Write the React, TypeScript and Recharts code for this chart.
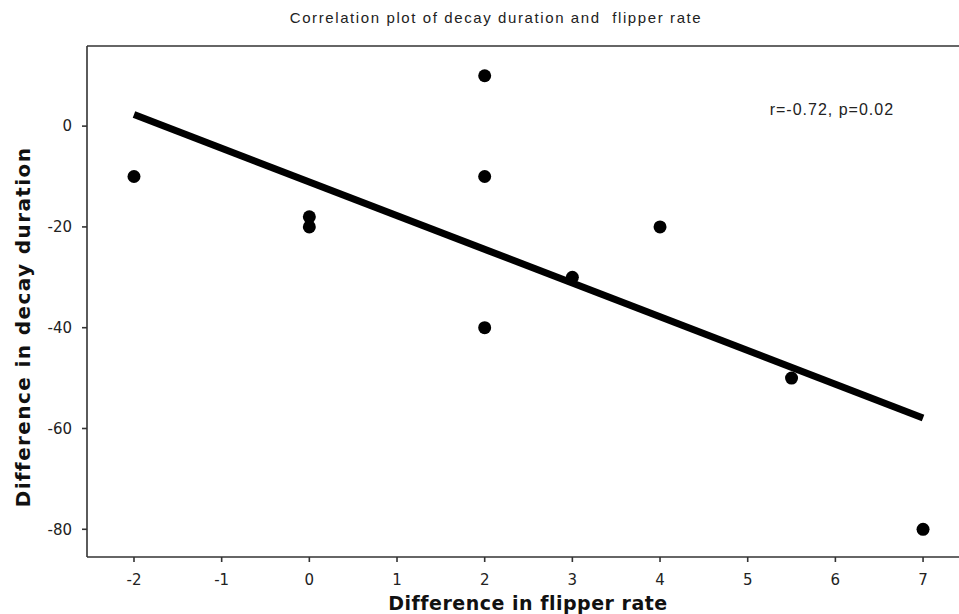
import React from "react";
import {
  ScatterChart,
  Scatter,
  XAxis,
  YAxis,
  ReferenceLine,
  ReferenceDot,
} from "recharts";

// Observed points (difference in flipper rate, difference in decay duration)
const flipperDiff = [-2, 0, 0, 2, 2, 2, 3, 4, 5.5, 7];
const decayDiff = [-10, -18, -20, 10, -10, -40, -30, -20, -50, -80];

// Fitted regression line end points
const fitX = [-2, 7];
const fitY = [2.3, -57.9];

const xTicks = [-2, -1, 0, 1, 2, 3, 4, 5, 6, 7];
const yTicks = [-80, -60, -40, -20, 0];
const xDomain: [number, number] = [-2.536, 7.41];
const yDomain: [number, number] = [-85.5, 15.9];

const titleText = "Correlation plot of decay duration and  flipper rate";
const statText = "r=-0.72, p=0.02";
const xLabelText = "Difference in flipper rate";
const yLabelText = "Difference in decay duration";

const points = flipperDiff.map((x, i) => ({ x, y: decayDiff[i] }));
const fitLine = fitX.map((x, i) => ({ x, y: fitY[i] }));

const AXIS = "#333";
const TICK_FONT = { fill: "#222", fontSize: 15, fontFamily: "DejaVu Sans" };

const XLabel = (props: any) => {
  const { viewBox } = props;
  const cx = viewBox.x + viewBox.width / 2;
  return (
    <text
      x={cx + 5}
      y={610}
      textAnchor="middle"
      fontFamily="DejaVu Sans"
      fontWeight="bold"
      fontSize={19}
      letterSpacing={0.5}
      fill="#111"
    >
      {xLabelText}
    </text>
  );
};

const YLabel = () => {
  const cx = 30;
  const cy = 327;
  return (
    <text
      x={cx}
      y={cy}
      transform={`rotate(-90 ${cx} ${cy})`}
      textAnchor="middle"
      fontFamily="DejaVu Sans"
      fontWeight="bold"
      fontSize={20}
      letterSpacing={1.4}
      fill="#111"
    >
      {yLabelText}
    </text>
  );
};

const StatLabel = (props: any) => {
  const { viewBox } = props;
  return (
    <text
      x={viewBox.x}
      y={viewBox.y + 6}
      textAnchor="middle"
      fontFamily="Liberation Sans"
      fontSize={16}
      letterSpacing={1}
      fill="#222"
    >
      {statText}
    </text>
  );
};

const Dot = (props: any) => {
  const { cx, cy } = props;
  return <circle cx={cx} cy={cy} r={6.5} fill="#000" />;
};

const NoShape = () => null;

export default function App() {
  return (
    <div
      style={{
        position: "absolute",
        left: 0,
        top: 0,
        width: 959,
        height: 614,
        background: "#fff",
        overflow: "hidden",
      }}
    >
      <div
        style={{
          position: "absolute",
          top: 9,
          left: 0,
          width: 992,
          textAlign: "center",
          fontFamily: "Liberation Sans",
          fontSize: 15,
          letterSpacing: 1.6,
          color: "#222",
          whiteSpace: "pre",
        }}
      >
        {titleText}
      </div>
      <ScatterChart
        width={959}
        height={614}
        margin={{ top: 46, right: 0, bottom: 0, left: 0 }}
      >
        <XAxis
          type="number"
          dataKey="x"
          domain={xDomain}
          ticks={xTicks}
          allowDataOverflow
          height={57}
          tickSize={5}
          tickMargin={12}
          axisLine={{ stroke: AXIS, strokeWidth: 1.6 }}
          tickLine={{ stroke: AXIS, strokeWidth: 1.6 }}
          tick={TICK_FONT}
          label={<XLabel />}
        />
        <YAxis
          type="number"
          dataKey="y"
          domain={yDomain}
          ticks={yTicks}
          allowDataOverflow
          width={87}
          tickSize={5}
          tickMargin={10}
          axisLine={{ stroke: AXIS, strokeWidth: 1.6 }}
          tickLine={{ stroke: AXIS, strokeWidth: 1.6 }}
          tick={TICK_FONT}
          label={<YLabel />}
        />
        <ReferenceLine y={yDomain[1]} stroke={AXIS} strokeWidth={1.6} />
        <Scatter
          data={fitLine}
          line={{ stroke: "#000", strokeWidth: 7 }}
          shape={<NoShape />}
          isAnimationActive={false}
        />
        <Scatter data={points} shape={<Dot />} isAnimationActive={false} />
        <ReferenceDot
          x={5.96}
          y={3.4}
          r={0}
          fill="none"
          stroke="none"
          label={<StatLabel />}
        />
      </ScatterChart>
    </div>
  );
}
